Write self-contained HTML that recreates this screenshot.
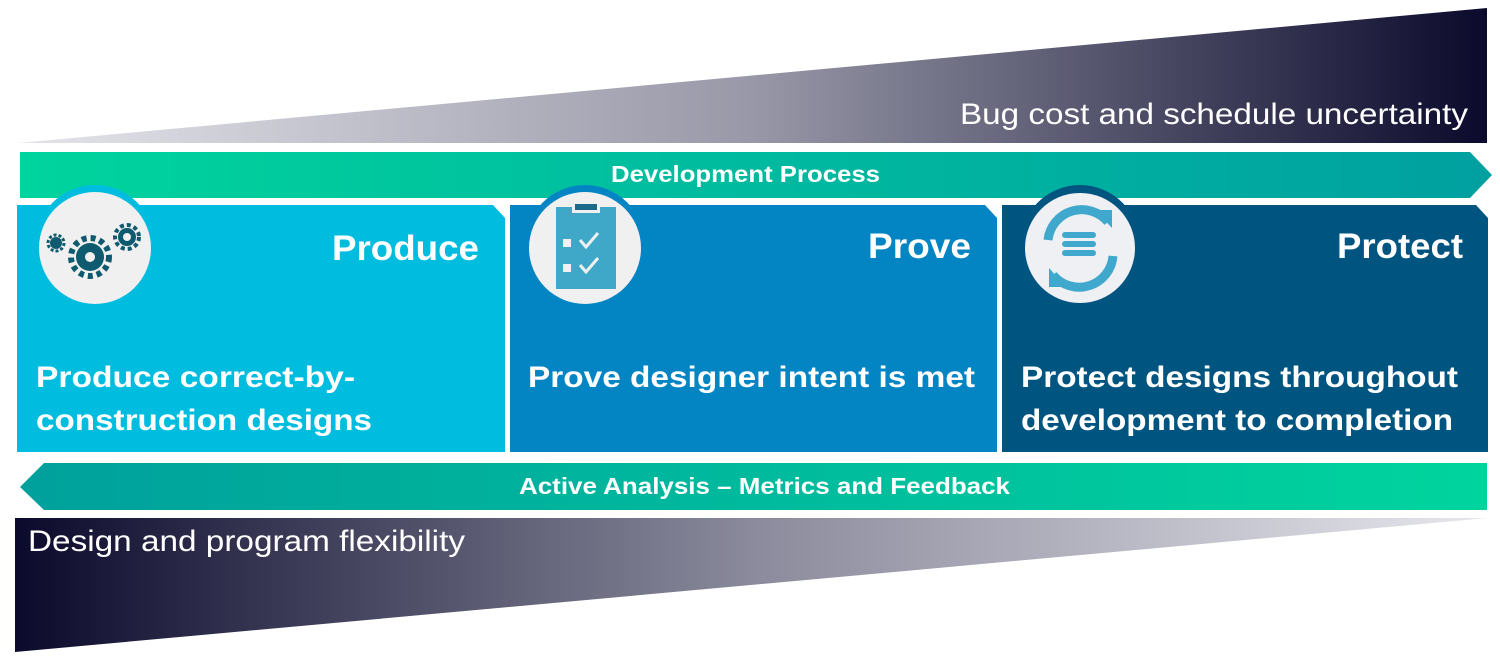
<!DOCTYPE html>
<html><head><style>
body{margin:0;background:#fff;}
svg{display:block;font-family:"Liberation Sans",Arial,sans-serif;}
</style></head><body>
<svg width="1500" height="661" viewBox="0 0 1500 661">
<defs>
<linearGradient id="gt" x1="0" x2="1" y1="0" y2="0"><stop offset="0" stop-color="#e4e4ea"/><stop offset="0.5" stop-color="#9898a8"/><stop offset="1" stop-color="#0b0a2c"/></linearGradient>
<linearGradient id="gb" x1="0" x2="1" y1="0" y2="0"><stop offset="0" stop-color="#0b0a2c"/><stop offset="0.5" stop-color="#8a8a9c"/><stop offset="1" stop-color="#e6e6ec"/></linearGradient>
<linearGradient id="ga" x1="0" x2="1"><stop offset="0" stop-color="#00d49e"/><stop offset="1" stop-color="#00a0a0"/></linearGradient>
<linearGradient id="gc" x1="0" x2="1"><stop offset="0" stop-color="#00a09c"/><stop offset="1" stop-color="#00d49e"/></linearGradient>
</defs>
<polygon points="18,143 1487,8 1487,143" fill="url(#gt)"/>
<text x="960" y="124" font-size="30" fill="#fff" textLength="508" lengthAdjust="spacingAndGlyphs">Bug cost and schedule uncertainty</text>
<polygon points="20,152 1470,152 1492,175 1470,198 20,198" fill="url(#ga)"/>
<text x="611" y="182" font-size="23" font-weight="bold" fill="#fff" textLength="269" lengthAdjust="spacingAndGlyphs">Development Process</text>

<polygon points="17,205 493,205 505,218 505,452 17,452" fill="#00bde0"/>
<polygon points="510,205 985,205 997,218 997,452 510,452" fill="#0385c3"/>
<polygon points="1002,205 1476,205 1488,218 1488,452 1002,452" fill="#005580"/>

<circle cx="95" cy="245" r="60" fill="#00bde0"/>
<circle cx="95" cy="248" r="56" fill="#f0f0f0"/>
<circle cx="585" cy="245" r="60" fill="#0385c3"/>
<circle cx="585" cy="248" r="56" fill="#f0f0f0"/>
<circle cx="1080" cy="245" r="60" fill="#005580"/>
<circle cx="1080" cy="248" r="55" fill="#eef0f4"/>

<g fill="#0e5a6e">
<circle cx="90" cy="257" r="14"/><circle cx="90" cy="257" r="19" fill="none" stroke="#0e5a6e" stroke-width="6" stroke-dasharray="5 4"/>
<circle cx="90" cy="257" r="5" fill="#f0f0f0"/>
<circle cx="127" cy="237" r="9"/><circle cx="127" cy="237" r="12" fill="none" stroke="#0e5a6e" stroke-width="4" stroke-dasharray="4 3"/>
<circle cx="127" cy="237" r="4" fill="#f0f0f0"/>
<circle cx="56" cy="243" r="6"/><circle cx="56" cy="243" r="8" fill="none" stroke="#0e5a6e" stroke-width="3" stroke-dasharray="3 2"/>
</g>
<rect x="556" y="207" width="60" height="82" fill="#3fa8c8"/>
<rect x="572" y="202" width="28" height="11" fill="#f0f0f0"/>
<rect x="575" y="204" width="22" height="6" fill="#1c6a8a"/>
<rect x="563" y="239" width="8" height="8" fill="#f0f0f0"/>
<rect x="563" y="264" width="8" height="8" fill="#f0f0f0"/>
<path d="M580 240 l6 7 l12 -14 M580 265 l6 7 l12 -14" stroke="#f0f0f0" stroke-width="3" fill="none"/>
<g fill="none" stroke="#40a8cc" stroke-width="9">
<path d="M1048 240 A34 34 0 0 1 1108 222"/>
<path d="M1113 256 A34 34 0 0 1 1053 275"/>
</g>
<polygon points="1095,210 1112,210 1112,228" fill="#40a8cc"/>
<polygon points="1066,287 1049,287 1049,268" fill="#40a8cc"/>
<g fill="#40a8cc"><rect x="1062" y="232" width="34" height="6" rx="3"/><rect x="1062" y="241" width="34" height="6" rx="3"/><rect x="1062" y="250" width="34" height="6" rx="3"/></g>

<g fill="#fff" font-weight="bold" lengthAdjust="spacingAndGlyphs">
<text x="332" y="260" font-size="35" textLength="147" lengthAdjust="spacingAndGlyphs">Produce</text>
<text x="868" y="258" font-size="35" textLength="103" lengthAdjust="spacingAndGlyphs">Prove</text>
<text x="1337" y="258" font-size="35" textLength="126" lengthAdjust="spacingAndGlyphs">Protect</text>
<text x="36" y="387" font-size="30" textLength="319" lengthAdjust="spacingAndGlyphs">Produce correct-by-</text>
<text x="36" y="430" font-size="30" textLength="336" lengthAdjust="spacingAndGlyphs">construction designs</text>
<text x="528" y="387" font-size="30" textLength="447" lengthAdjust="spacingAndGlyphs">Prove designer intent is met</text>
<text x="1021" y="387" font-size="30" textLength="437" lengthAdjust="spacingAndGlyphs">Protect designs throughout</text>
<text x="1021" y="430" font-size="30" textLength="432" lengthAdjust="spacingAndGlyphs">development to completion</text>
</g>

<polygon points="20,487 44,463 1487,463 1487,510 44,510" fill="url(#gc)"/>
<text x="519" y="494" font-size="23" font-weight="bold" fill="#fff" textLength="491" lengthAdjust="spacingAndGlyphs">Active Analysis – Metrics and Feedback</text>

<polygon points="15,518 1487,518 15,652" fill="url(#gb)"/>
<text x="28" y="551" font-size="30" fill="#fff" textLength="437" lengthAdjust="spacingAndGlyphs">Design and program flexibility</text>
</svg>
</body></html>
